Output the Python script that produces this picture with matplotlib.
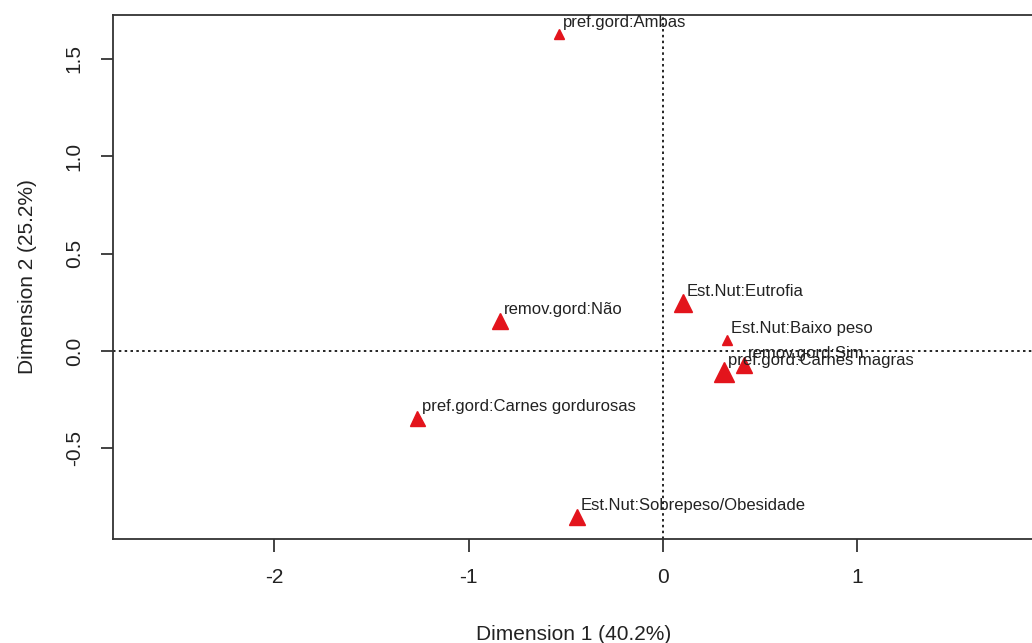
import matplotlib
matplotlib.use("Agg")
import matplotlib.pyplot as plt

plt.rcParams['font.family'] = ['Liberation Sans', 'DejaVu Sans']

# MCA category coordinates
labels = ['pref.gord:Ambas', 'Est.Nut:Eutrofia', 'Est.Nut:Baixo peso', 'remov.gord:Sim',
          'pref.gord:Carnes magras', 'remov.gord:Não', 'pref.gord:Carnes gordurosas',
          'Est.Nut:Sobrepeso/Obesidade']
dim1 = [-0.536, 0.103, 0.330, 0.418, 0.314, -0.840, -1.263, -0.443]
dim2 = [1.628, 0.247, 0.056, -0.072, -0.108, 0.154, -0.344, -0.853]
marker_size = [7.9, 13.0, 6.5, 12.2, 13.7, 12.2, 10.8, 11.5]

xticks = [-2, -1, 0, 1]
yticks = [-0.5, 0.0, 0.5, 1.0, 1.5]

fig = plt.figure(figsize=(10.32, 6.43), dpi=100)
ax = fig.add_axes([113 / 1032, 104 / 643, 921 / 1032, 524 / 643])

ax.axhline(0, color='black', linestyle=(0, (1.5, 2)), linewidth=1.2, zorder=1)
ax.axvline(0, color='black', linestyle=(0, (1.5, 2)), linewidth=1.2, zorder=1)

for x, y, ms, lab in zip(dim1, dim2, marker_size, labels):
    ax.plot(x, y, marker='^', markersize=ms, color='#e3141c', linestyle='none', zorder=3)
    ax.annotate(lab, (x, y), xytext=(3, 8), textcoords='offset points',
                fontsize=12, color='#222222', ha='left', va='center', zorder=4)

ax.set_xlim(-2.83, 1.91)
ax.set_ylim(-0.966, 1.726)
ax.set_xticks(xticks)
ax.set_xticklabels([f'{t:g}' for t in xticks])
ax.set_yticks(yticks)
ax.set_yticklabels([f'{t:.1f}' for t in yticks], rotation=90, va='center')
ax.tick_params(axis='both', direction='out', length=9, width=1.2, labelsize=15,
               colors='#222222')
ax.tick_params(axis='x', pad=12)
ax.tick_params(axis='y', pad=12)
for s in ax.spines.values():
    s.set_linewidth(1.3)
    s.set_color('#333333')

ax.set_xlabel('Dimension 1 (40.2%)', fontsize=15, color='#222222', labelpad=27)
ax.set_ylabel('Dimension 2 (25.2%)', fontsize=15, color='#222222', labelpad=20)

fig.savefig('out.png', dpi=100)
